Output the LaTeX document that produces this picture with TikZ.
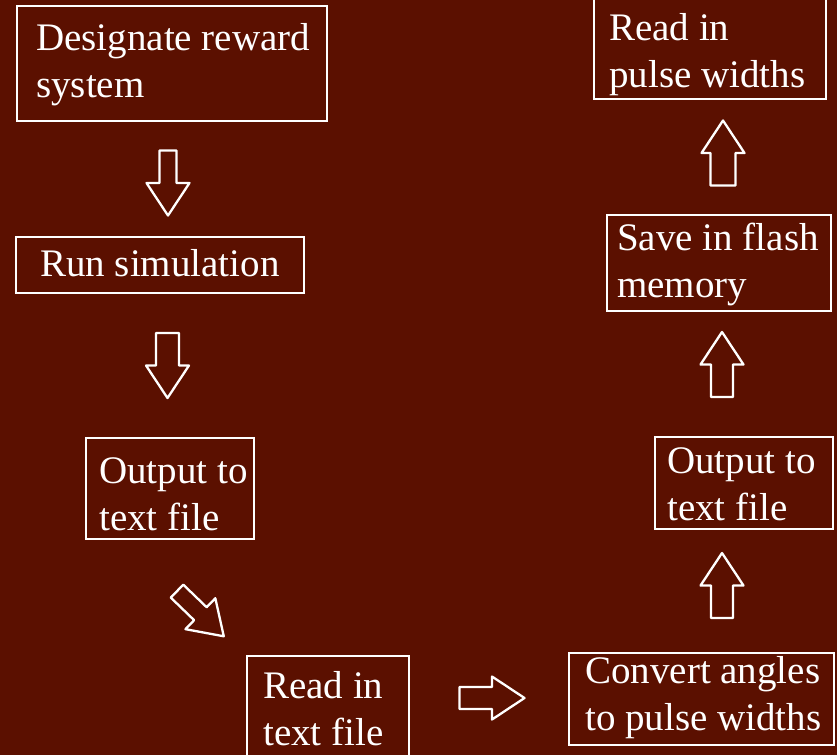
\documentclass[tikz,border=0pt]{standalone}
\usepackage{fontspec}
\setmainfont{Liberation Serif}
\definecolor{bgred}{RGB}{91,16,0}
\newcommand\barrow[4]{\draw[arr, shift={(#1,#2)}, rotate=#3] (-32.5,-#4) -- (0,-#4) -- (0,-21.5) -- (32.5,0) -- (0,21.5) -- (0,#4) -- (-32.5,#4) -- cycle;}
\tikzset{
  box/.style={draw=white, line width=2.7pt, rectangle, inner sep=0pt},
  txt/.style={text=white, inner sep=0pt, anchor=base west, font=\fontsize{39}{47}\selectfont},
  arr/.style={draw=white, line width=2.3pt, line join=round}
}
\newcommand\lines[1]{\begin{tabular}[t]{@{}l@{}}#1\end{tabular}}
\begin{document}
\begin{tikzpicture}[x=1pt,y=-1pt]
\useasboundingbox (0,0) rectangle (837,755);
\fill[bgred] (0,0) rectangle (837,755);
\clip (0,0) rectangle (837,755);
% boxes
\node[box, minimum width=310pt, minimum height=115pt] (b1) at (172,63.5) {};
\node[box, minimum width=288pt, minimum height=56pt] (b2) at (160,265) {};
\node[box, minimum width=168pt, minimum height=101pt] (b3) at (170,488.5) {};
\node[box, minimum width=162pt, minimum height=110pt] (b4) at (328,711) {};
\node[box, minimum width=265pt, minimum height=92pt] (b5) at (701.5,699) {};
\node[box, minimum width=178pt, minimum height=92pt] (b6) at (744,483) {};
\node[box, minimum width=224pt, minimum height=96pt] (b7) at (719,263) {};
\node[box, minimum width=232pt, minimum height=109pt] (b8) at (710,44.5) {};
% texts
\node[txt] (t1) at (36,50) {\lines{Designate reward\\system}};
\node[txt] (t2) at (40,276) {Run simulation};
\node[txt] (t3) at (99,483) {\lines{Output to\\text file}};
\node[txt] (t4) at (263,698) {\lines{Read in\\text file}};
\node[txt] (t5) at (585,683) {\lines{Convert angles\\to pulse widths}};
\node[txt] (t6) at (667,473) {\lines{Output to\\text file}};
\node[txt] (t7) at (617,250) {\lines{Save in flash\\memory}};
\node[txt] (t8) at (609,40) {\lines{Read in\\pulse widths}};
% block arrows
\barrow{168}{183}{-90}{8.5}
\barrow{167.5}{365.5}{-90}{11.5}
\barrow{200.4}{613.7}{-44}{9}
\barrow{492}{698}{0}{11}
\barrow{722}{585.5}{90}{11}
\barrow{722}{364.5}{90}{11}
\barrow{723}{153}{90}{12.5}
\end{tikzpicture}
\end{document}
